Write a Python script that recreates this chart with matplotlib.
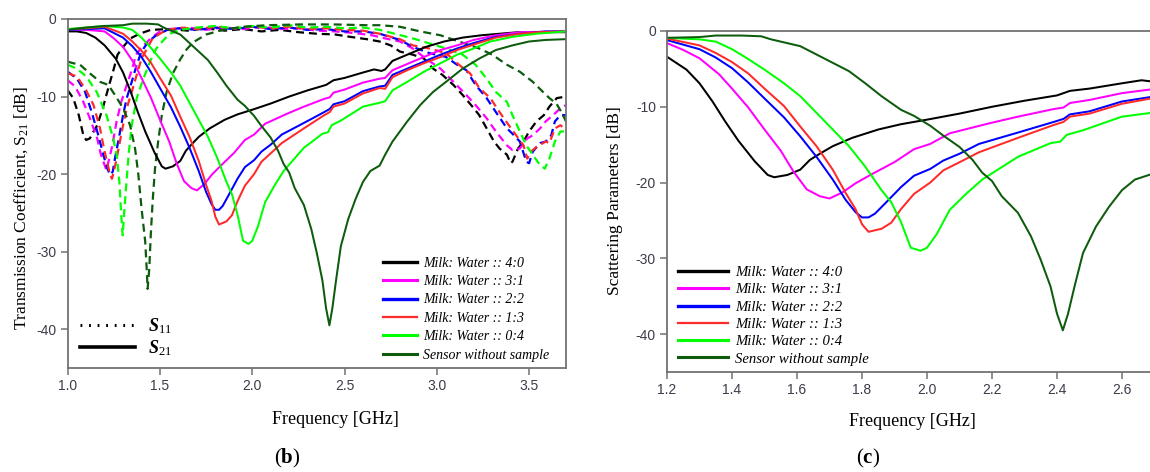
import matplotlib
matplotlib.use('Agg')
from matplotlib import pyplot as plt
from matplotlib.lines import Line2D

plt.rcParams.update({
    'font.family': 'Liberation Sans',
    'axes.unicode_minus': False,
    'mathtext.fontset': 'custom',
    'mathtext.rm': 'Liberation Serif',
    'mathtext.it': 'Liberation Serif:italic:bold',
    'mathtext.bf': 'Liberation Serif:bold',
})

# ---- S21 (transmission) per milk:water ratio, frequency in GHz, value in dB
f21_40 = [1.00, 1.05, 1.10, 1.15, 1.20, 1.26, 1.30, 1.34, 1.38, 1.42, 1.47, 1.51, 1.53, 1.57, 1.61,
          1.64, 1.67, 1.71, 1.77, 1.85, 1.92, 2.00, 2.10, 2.20, 2.30, 2.40, 2.44, 2.50, 2.60, 2.66,
          2.70, 2.72, 2.76, 2.84, 2.94, 3.04, 3.14, 3.24, 3.34, 3.44, 3.55, 3.70]
s21_40 = [-1.6, -1.6, -1.8, -2.4, -3.4, -5.1, -6.9, -9.3, -12.0, -14.5, -17.2, -19.0, -19.3, -19.0, -18.3,
          -17.0, -16.2, -15.2, -14.1, -13.0, -12.3, -11.7, -10.9, -10.0, -9.2, -8.5, -7.9, -7.6, -6.9, -6.5,
          -6.7, -6.5, -5.4, -4.6, -3.6, -2.9, -2.4, -2.1, -1.9, -1.7, -1.7, -1.7]

f21_31 = [1.00, 1.10, 1.15, 1.20, 1.25, 1.30, 1.36, 1.40, 1.45, 1.50, 1.55, 1.59, 1.63, 1.67, 1.70,
          1.74, 1.78, 1.83, 1.90, 1.96, 2.01, 2.07, 2.19, 2.28, 2.39, 2.42, 2.44, 2.50, 2.60, 2.69,
          2.72, 2.76, 2.84, 2.93, 3.02, 3.11, 3.20, 3.32, 3.45, 3.70]
s21_31 = [-1.4, -1.4, -1.5, -1.6, -2.5, -3.6, -5.7, -7.6, -10.1, -13.0, -15.8, -18.6, -20.9, -21.8, -22.1,
          -21.3, -20.1, -18.9, -17.3, -15.6, -14.9, -13.5, -12.2, -11.3, -10.3, -10.1, -9.5, -9.1, -8.2, -7.7,
          -7.6, -6.6, -5.8, -4.9, -4.0, -3.4, -2.7, -2.1, -1.7, -1.6]

f21_22 = [1.00, 1.10, 1.20, 1.30, 1.35, 1.40, 1.45, 1.50, 1.56, 1.61, 1.66, 1.71, 1.75, 1.78, 1.80,
          1.82, 1.84, 1.87, 1.92, 1.96, 2.01, 2.05, 2.10, 2.16, 2.28, 2.39, 2.42, 2.44, 2.50, 2.60,
          2.69, 2.72, 2.76, 2.84, 2.93, 3.02, 3.11, 3.20, 3.32, 3.45, 3.59, 3.70]
s21_22 = [-1.4, -1.3, -1.2, -2.4, -3.5, -4.9, -6.8, -8.9, -11.4, -13.9, -16.6, -19.6, -22.3, -23.9, -24.6,
          -24.6, -24.1, -22.8, -20.6, -19.1, -18.2, -17.1, -16.2, -14.9, -13.4, -12.0, -11.6, -11.0, -10.6, -9.3,
          -8.7, -8.6, -7.2, -6.4, -5.5, -4.6, -3.8, -3.1, -2.3, -1.9, -1.6, -1.6]

f21_13 = [1.00, 1.10, 1.20, 1.30, 1.35, 1.40, 1.45, 1.50, 1.56, 1.61, 1.66, 1.71, 1.75, 1.78, 1.80,
          1.82, 1.86, 1.89, 1.92, 1.96, 2.01, 2.05, 2.11, 2.16, 2.28, 2.39, 2.42, 2.44, 2.50, 2.60,
          2.69, 2.72, 2.76, 2.84, 2.93, 3.02, 3.11, 3.20, 3.32, 3.45, 3.55, 3.70]
s21_13 = [-1.3, -1.2, -1.0, -1.9, -2.9, -4.1, -5.6, -7.6, -9.9, -12.6, -15.2, -18.3, -21.4, -23.5, -25.5,
          -26.5, -26.1, -25.3, -23.5, -21.5, -20.0, -18.4, -17.1, -16.0, -14.1, -12.4, -12.0, -11.3, -10.9, -9.6,
          -8.9, -9.0, -7.5, -6.6, -5.7, -4.9, -4.0, -3.3, -2.4, -1.9, -1.7, -1.6]

f21_04 = [1.00, 1.10, 1.20, 1.30, 1.35, 1.40, 1.45, 1.50, 1.56, 1.61, 1.66, 1.71, 1.76, 1.81, 1.86,
          1.89, 1.92, 1.95, 1.98, 2.00, 2.03, 2.07, 2.12, 2.17, 2.28, 2.38, 2.41, 2.43, 2.48, 2.60,
          2.69, 2.72, 2.76, 2.84, 2.93, 3.02, 3.11, 3.20, 3.29, 3.41, 3.54, 3.70]
s21_04 = [-1.3, -1.1, -0.9, -1.1, -1.4, -2.4, -3.7, -5.1, -6.9, -8.6, -10.8, -13.0, -15.2, -17.9, -21.0,
          -22.6, -25.2, -28.6, -29.0, -28.6, -26.8, -23.6, -21.5, -19.6, -16.6, -14.8, -14.6, -13.7, -13.1, -11.3,
          -10.8, -10.6, -9.2, -8.1, -6.8, -5.7, -4.6, -3.8, -2.9, -2.3, -1.9, -1.6]

f21_air = [1.00, 1.10, 1.20, 1.30, 1.35, 1.43, 1.49, 1.52, 1.56, 1.61, 1.66, 1.71, 1.76, 1.81, 1.86,
           1.92, 1.96, 2.01, 2.05, 2.10, 2.14, 2.17, 2.20, 2.23, 2.28, 2.32, 2.35, 2.38, 2.40, 2.418,
           2.434, 2.454, 2.48, 2.52, 2.56, 2.60, 2.64, 2.69, 2.72, 2.76, 2.84, 2.91, 2.98, 3.05, 3.14,
           3.23, 3.32, 3.41, 3.50, 3.59, 3.70]
s21_air = [-1.4, -1.1, -0.9, -0.8, -0.6, -0.6, -0.7, -1.1, -1.5, -2.0, -3.1, -4.2, -5.3, -6.9, -8.6,
           -10.4, -11.2, -12.5, -13.8, -15.3, -17.0, -18.7, -19.8, -21.8, -24.0, -27.1, -30.2, -33.7, -37.3, -39.5,
           -37.3, -33.7, -29.3, -25.8, -23.2, -21.0, -19.6, -18.9, -17.5, -15.8, -13.2, -11.1, -9.4, -8.1, -6.4,
           -5.1, -4.0, -3.4, -2.9, -2.7, -2.6]

# ---- S11 (reflection)
f11_40 = [1.00, 1.03, 1.06, 1.085, 1.10, 1.12, 1.14, 1.16, 1.19, 1.22, 1.25, 1.27, 1.30, 1.34, 1.39,
          1.45, 1.55, 1.65, 1.75, 1.85, 1.95, 2.05, 2.15, 2.25, 2.35, 2.45, 2.53, 2.62, 2.69, 2.75,
          2.80, 2.87, 2.93, 2.98, 3.03, 3.09, 3.14, 3.20, 3.23, 3.27, 3.31, 3.34, 3.38, 3.40, 3.41,
          3.44, 3.47, 3.50, 3.54, 3.58, 3.61, 3.65, 3.70]
s11_40 = [-9.2, -10.2, -12.4, -15.0, -15.6, -15.4, -14.5, -13.7, -11.5, -8.9, -6.4, -4.6, -3.6, -2.5, -1.9,
          -1.4, -1.3, -1.5, -1.2, -1.5, -1.3, -1.6, -1.4, -1.7, -1.9, -2.0, -2.3, -2.6, -2.9, -3.4,
          -4.2, -4.6, -5.1, -6.4, -7.2, -8.5, -9.8, -11.5, -12.4, -14.1, -15.8, -16.7, -17.5, -18.6, -18.4,
          -16.7, -15.8, -14.5, -13.2, -12.4, -11.3, -10.2, -10.0]

f11_31 = [1.00, 1.04, 1.085, 1.12, 1.16, 1.18, 1.21, 1.24, 1.265, 1.29, 1.32, 1.35, 1.37, 1.41, 1.45,
          1.50, 1.55, 1.65, 1.75, 1.85, 1.95, 2.05, 2.15, 2.25, 2.35, 2.45, 2.55, 2.65, 2.72, 2.80,
          2.87, 2.94, 3.02, 3.09, 3.16, 3.21, 3.27, 3.32, 3.38, 3.41, 3.45, 3.49, 3.52, 3.56, 3.59,
          3.63, 3.67, 3.70]
s11_31 = [-7.9, -8.7, -10.7, -12.8, -15.4, -17.5, -19.5, -16.5, -13.2, -10.7, -8.5, -6.4, -4.6, -3.4, -2.5,
          -1.6, -1.3, -1.1, -1.4, -1.1, -1.3, -1.0, -1.3, -1.2, -1.5, -1.6, -1.8, -2.1, -2.5, -2.9,
          -3.8, -5.1, -6.4, -8.1, -9.8, -11.1, -12.8, -14.5, -16.3, -16.9, -16.7, -15.4, -15.0, -14.1, -13.2,
          -12.4, -11.5, -11.1]

f11_22 = [1.00, 1.05, 1.094, 1.13, 1.166, 1.193, 1.215, 1.23, 1.244, 1.256, 1.28, 1.30, 1.32, 1.347, 1.374,
          1.40, 1.437, 1.48, 1.54, 1.60, 1.70, 1.80, 1.90, 2.00, 2.10, 2.20, 2.30, 2.40, 2.50, 2.60,
          2.69, 2.80, 2.87, 2.96, 3.05, 3.11, 3.16, 3.21, 3.27, 3.32, 3.38, 3.41, 3.45, 3.485, 3.50,
          3.52, 3.56, 3.59, 3.62, 3.64, 3.67, 3.70]
s11_22 = [-6.8, -7.7, -9.4, -12.0, -15.0, -17.5, -19.3, -20.1, -19.7, -18.0, -15.0, -12.4, -10.2, -8.1, -5.9,
          -4.2, -2.9, -2.1, -1.4, -1.2, -1.4, -1.1, -1.3, -1.0, -1.3, -1.1, -1.4, -1.3, -1.6, -1.6,
          -1.9, -2.7, -3.6, -4.4, -4.9, -5.9, -6.6, -8.5, -10.2, -12.0, -14.1, -14.8, -15.8, -18.4, -18.6,
          -17.1, -16.0, -15.8, -15.0, -13.2, -12.4, -12.4]

f11_13 = [1.00, 1.05, 1.10, 1.14, 1.175, 1.20, 1.23, 1.24, 1.25, 1.265, 1.283, 1.30, 1.32, 1.347, 1.374,
          1.40, 1.43, 1.46, 1.52, 1.60, 1.70, 1.80, 1.90, 2.00, 2.10, 2.20, 2.30, 2.40, 2.50, 2.60,
          2.69, 2.80, 2.87, 2.96, 3.05, 3.12, 3.18, 3.23, 3.29, 3.34, 3.39, 3.43, 3.47, 3.49, 3.51,
          3.54, 3.59, 3.61, 3.64, 3.67, 3.70]
s11_13 = [-7.0, -7.4, -9.2, -11.1, -14.1, -17.1, -20.1, -20.6, -19.7, -18.0, -15.8, -13.7, -11.5, -9.4, -7.2,
          -5.1, -3.8, -2.5, -1.6, -1.1, -1.3, -1.0, -1.2, -1.0, -1.2, -1.0, -1.3, -1.2, -1.4, -1.5,
          -1.9, -2.6, -3.4, -3.8, -4.4, -5.9, -7.0, -8.9, -10.2, -12.0, -13.7, -15.0, -16.3, -18.0, -17.1,
          -16.5, -15.8, -16.0, -14.1, -13.7, -14.3]

f11_04 = [1.00, 1.05, 1.10, 1.157, 1.21, 1.247, 1.265, 1.28, 1.29, 1.298, 1.305, 1.316, 1.33, 1.347, 1.374,
          1.41, 1.446, 1.48, 1.52, 1.555, 1.61, 1.70, 1.80, 1.90, 2.00, 2.10, 2.20, 2.30, 2.40, 2.50,
          2.60, 2.69, 2.87, 3.05, 3.14, 3.21, 3.27, 3.32, 3.38, 3.41, 3.45, 3.485, 3.52, 3.558, 3.585,
          3.61, 3.64, 3.67, 3.70]
s11_04 = [-5.9, -6.4, -7.4, -9.4, -12.4, -15.4, -17.5, -21.0, -25.3, -27.9, -25.3, -21.8, -17.5, -13.7, -10.2,
          -7.7, -5.5, -3.8, -2.7, -1.9, -1.4, -1.1, -0.9, -1.2, -0.9, -1.1, -0.8, -1.1, -1.0, -1.2,
          -1.1, -1.4, -2.5, -3.8, -4.6, -5.9, -7.7, -9.4, -10.7, -12.4, -14.5, -16.3, -17.5, -18.8, -19.3,
          -18.0, -15.8, -14.5, -14.5]

f11_air = [1.00, 1.03, 1.067, 1.10, 1.14, 1.175, 1.22, 1.256, 1.30, 1.338, 1.365, 1.383, 1.40, 1.42, 1.428,
           1.433, 1.442, 1.45, 1.46, 1.473, 1.49, 1.51, 1.536, 1.57, 1.61, 1.645, 1.68, 1.75, 1.84, 1.95,
           2.08, 2.26, 2.44, 2.62, 2.69, 2.80, 2.91, 3.02, 3.12, 3.23, 3.30, 3.38, 3.45, 3.52, 3.575,
           3.61, 3.648, 3.675, 3.70]
s11_air = [-5.5, -5.7, -5.9, -6.6, -7.4, -8.1, -8.5, -9.8, -11.5, -13.7, -16.7, -20.1, -24.4, -28.7, -32.2,
           -34.8, -32.2, -27.9, -23.6, -19.3, -15.8, -12.4, -9.4, -7.0, -5.2, -3.9, -3.0, -2.0, -1.4, -1.0,
           -0.8, -0.7, -0.7, -0.8, -0.8, -1.0, -1.6, -2.1, -2.9, -3.8, -4.6, -5.9, -6.8, -8.1, -9.4,
           -10.2, -10.9, -12.0, -13.2]

labels = ['Milk: Water :: 4:0', 'Milk: Water :: 3:1', 'Milk: Water :: 2:2',
          'Milk: Water :: 1:3', 'Milk: Water :: 0:4', 'Sensor without sample']
colors = ['#000000', '#ff00ff', '#0000ff', '#ff2a2a', '#00ff00', '#0d5c0d']
leg_lw = [2.4, 2.2, 2.4, 1.6, 2.2, 2.2]

s21 = [(f21_40, s21_40), (f21_31, s21_31), (f21_22, s21_22),
       (f21_13, s21_13), (f21_04, s21_04), (f21_air, s21_air)]
s11 = [(f11_40, s11_40), (f11_31, s11_31), (f11_22, s11_22),
       (f11_13, s11_13), (f11_04, s11_04), (f11_air, s11_air)]

W, H = 1150, 472
fig = plt.figure(figsize=(W / 100, H / 100), dpi=100)

def px_axes(x0, x1, y0, y1):
    return fig.add_axes([x0 / W, 1 - y1 / H, (x1 - x0) / W, (y1 - y0) / H])

def style(ax):
    for s in ax.spines.values():
        s.set_color('#727272')
        s.set_linewidth(1.3)
    ax.tick_params(direction='out', length=5, width=1.1, color='#727272',
                   labelsize=10, labelcolor='#3c3c4a', pad=3)
    ax.set_ylim(-45, 0)
    ax.set_yticks([0, -10, -20, -30, -40])

serif = 'Liberation Serif'

# (b) S11 and S21
ax1 = px_axes(67.7, 566, 19, 368)
for (f, v), c in zip(s11, colors):
    ax1.plot(f, v, color=c, lw=1.6, dashes=(3.6, 2.2))
for (f, v), c in zip(s21, colors):
    ax1.plot(f, v, color=c, lw=1.45)
ax1.set_xlim(1.0, 3.7)
ax1.set_xticks([1.0, 1.5, 2.0, 2.5, 3.0, 3.5])
ax1.xaxis.set_major_formatter('{x:.1f}')
style(ax1)

handles = [Line2D([], [], color=c, lw=w) for c, w in zip(colors, leg_lw)]
leg1 = ax1.legend(handles, labels, loc='lower left', bbox_to_anchor=(0.633, 0.018),
                  frameon=False, prop={'family': serif, 'style': 'italic', 'size': 10},
                  handlelength=2.45, handletextpad=0.42, labelspacing=0.39,
                  borderpad=0, borderaxespad=0)
ax1.add_artist(leg1)
sp_handles = [Line2D([], [], color='black', lw=2.2, linestyle=(0, (0.6, 2.2))),
              Line2D([], [], color='black', lw=2.6)]
ax1.legend(sp_handles, [r'$\mathit{S}_{\mathit{11}}$', r'$\mathit{S}_{\mathit{21}}$'],
           loc='lower left', bbox_to_anchor=(0.025, 0.03), frameon=False,
           prop={'size': 13}, handlelength=3.05, handletextpad=0.72, labelspacing=0.1,
           borderpad=0, borderaxespad=0)

# (c) S21 only
ax2 = px_axes(667, 1154.5, 31, 372)
for (f, v), c in zip(s21, colors):
    ax2.plot(f, v, color=c, lw=1.45)
ax2.set_xlim(1.2, 2.7)
ax2.set_xticks([1.2, 1.4, 1.6, 1.8, 2.0, 2.2, 2.4, 2.6])
ax2.xaxis.set_major_formatter('{x:.1f}')
style(ax2)
ax2.legend(handles, labels, loc='lower left', bbox_to_anchor=(0.0226, 0.019),
           frameon=False, prop={'family': serif, 'style': 'italic', 'size': 10.6},
           handlelength=3.4, handletextpad=0.47, labelspacing=0.27,
           borderpad=0, borderaxespad=0)

# axis titles and panel tags
def ftext(x, y, s, **kw):
    fig.text(x / W, 1 - y / H, s, ha='center', va='center', family=serif, **kw)

ftext(335, 420, 'Frequency [GHz]', size=13)
ftext(912, 421, 'Frequency [GHz]', size=13)
ftext(21, 208, r'Transmission Coefficient, $\mathrm{S}_{\mathrm{21}}$ [dB]', size=12.5, rotation=90)
ftext(615, 201, 'Scattering Parameters [dB]', size=12.5, rotation=90)
ftext(287, 458, r'($\mathbf{b}$)', size=15)
ftext(868, 458, r'($\mathbf{c}$)', size=15)

fig.savefig('out.png', dpi=100)
